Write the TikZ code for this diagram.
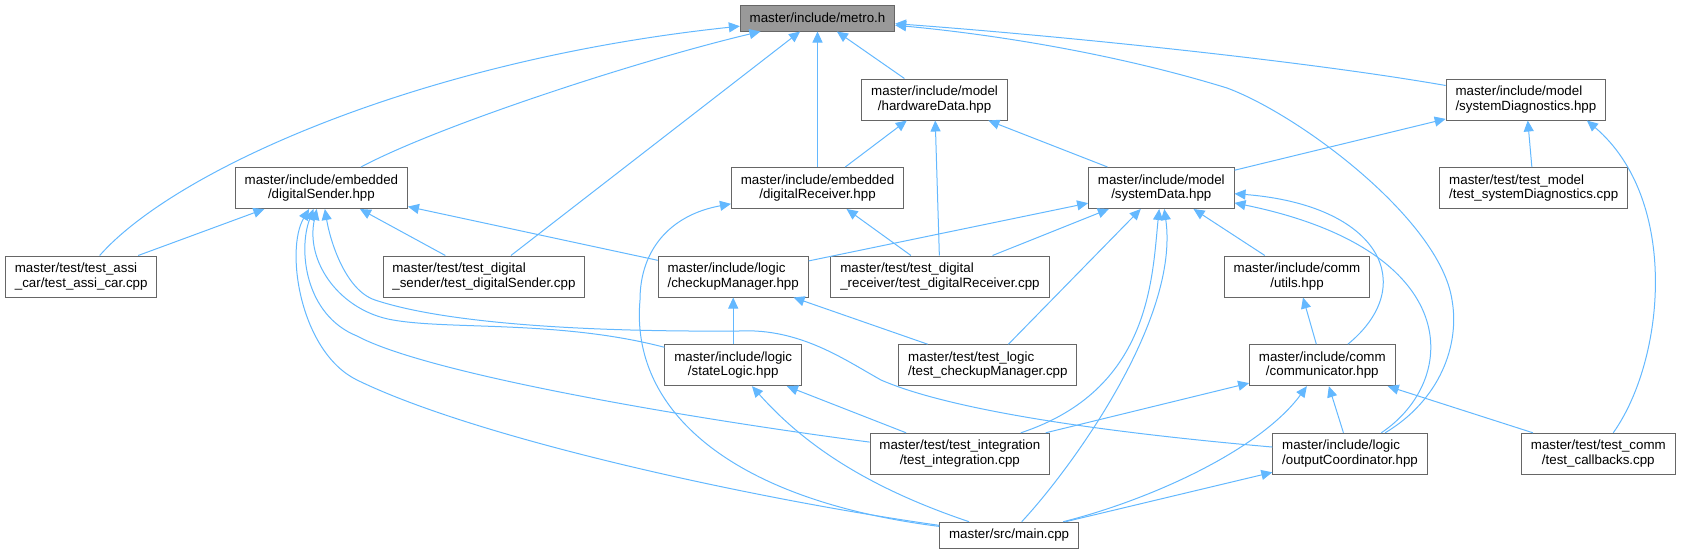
\documentclass[tikz,border=0pt]{standalone}
\usepackage{fontspec}
\setmainfont{Liberation Sans}
\usetikzlibrary{arrows.meta}
\definecolor{edgeblue}{HTML}{63B8FF}
\definecolor{boxgray}{HTML}{666666}
\definecolor{rootgray}{HTML}{999999}
\tikzstyle{file} = [rectangle, draw=boxgray, fill=white, line width=0.75pt, align=center, inner xsep=7pt, inner ysep=0pt, minimum height=30.75pt, font=\fontsize{10}{11}\selectfont]
\tikzstyle{root} = [file, fill=rootgray, minimum height=19.5pt]
\tikzstyle{line} = [draw=edgeblue, line width=0.75pt, -{Triangle[length=8.25pt,width=7.5pt]}]

\begin{document}
\begin{tikzpicture}[x=0.75pt, y=-0.75pt]
        \useasboundingbox (0,0) rectangle (1681,553);
        \node[root]                  (metr) at (817.5,18)   {master/include/metro.h};
        \node[file]                  (hwdt) at (934.6,99.5) {master/include/model\\/hardwareData.hpp};
        \node[file, align=left]      (sdia) at (1525.9,99.5) {master/include/model\\/systemDiagnostics.hpp};
        \node[file]                  (dsnd) at (321.4,188)  {master/include/embedded\\/digitalSender.hpp};
        \node[file]                  (drcv) at (817.5,188)  {master/include/embedded\\/digitalReceiver.hpp};
        \node[file]                  (sdat) at (1161.3,188) {master/include/model\\/systemData.hpp};
        \node[file, align=left]      (tsdi) at (1533.7,188) {master/test/test\_model\\/test\_systemDiagnostics.cpp};
        \node[file, align=left]      (tasi) at (81.2,276.5) {master/test/test\_assi\\\_car/test\_assi\_car.cpp};
        \node[file, align=left]      (ttds) at (483.9,276.5) {master/test/test\_digital\\\_sender/test\_digitalSender.cpp};
        \node[file, align=left]      (ckmg) at (733.2,276.5) {master/include/logic\\/checkupManager.hpp};
        \node[file, align=left]      (ttdr) at (940,276.5)  {master/test/test\_digital\\\_receiver/test\_digitalReceiver.cpp};
        \node[file]                  (util) at (1297,276.5) {master/include/comm\\/utils.hpp};
        \node[file]                  (stat) at (733.2,365.2) {master/include/logic\\/stateLogic.hpp};
        \node[file, align=left]      (ttck) at (987.9,365.2) {master/test/test\_logic\\/test\_checkupManager.cpp};
        \node[file]                  (comm) at (1322.3,365.2) {master/include/comm\\/communicator.hpp};
        \node[file]                  (tint) at (959.8,453.8) {master/test/test\_integration\\/test\_integration.cpp};
        \node[file, align=left]      (outc) at (1350,453.8) {master/include/logic\\/outputCoordinator.hpp};
        \node[file]                  (tcbk) at (1598.3,453.8) {master/test/test\_comm\\/test\_callbacks.cpp};
        \node[root, fill=white]      (main) at (1009.1,535.2) {master/src/main.cpp};

        % metro.h
        \path[line] (tasi) .. controls (175,170) and (420,60) .. (metr);
        \path[line] (dsnd) .. controls (440,125) and (640,60) .. (metr);
        \path[line] (ttds) -- (metr);
        \path[line] (drcv) -- (metr);
        \path[line] (hwdt) -- (metr);
        \path[line] (sdia) .. controls (1300,60) and (1050,35) .. (metr);
        \path[line] (outc) .. controls (1440,400) and (1460,345) .. (1452,300) .. controls (1440,220) and (1300,115) .. (1227,88) .. controls (1120,55) and (1000,35) .. (metr);
        % model
        \path[line] (drcv) -- (hwdt);
        \path[line] (ttdr) -- (hwdt);
        \path[line] (sdat) -- (hwdt);
        \path[line] (sdat) -- (sdia);
        \path[line] (tsdi) -- (sdia);
        \path[line] (tcbk) .. controls (1665,360) and (1680,200) .. (sdia.-19);
        % embedded
        \path[line] (tasi) -- (dsnd);
        \path[line] (ttds) -- (dsnd);
        \path[line] (ckmg) -- (dsnd);
        \path[line] (main) .. controls (760,500) and (480,440) .. (357,380) .. controls (300,352) and (285,250) .. (dsnd);
        \path[line] (tint) .. controls (700,420) and (430,375) .. (357,336) .. controls (305,315) and (298,250) .. (dsnd);
        \path[line] (stat) .. controls (560,320) and (450,330) .. (393,320) .. controls (340,311) and (305,262) .. (dsnd);
        \path[line] (outc) .. controls (1100,432) and (950,410) .. (881,380) .. controls (845,360) and (800,328) .. (739,331) .. controls (600,332) and (450,325) .. (375,300) .. controls (345,290) and (330,240) .. (dsnd);
        \path[line] (ttdr) -- (drcv);
        \path[line] (main) .. controls (730,500) and (630,410) .. (640,300) .. controls (640,250) and (670,215) .. (drcv);
        % systemData
        \path[line] (ckmg) -- (sdat);
        \path[line] (ttdr) -- (sdat);
        \path[line] (ttck) -- (sdat);
        \path[line] (tint.19) .. controls (1150,390) and (1152,280) .. (sdat);
        \path[line] (main) .. controls (1070,470) and (1180,320) .. (sdat);
        \path[line] (util) -- (sdat);
        \path[line] (comm) .. controls (1420,285) and (1380,205) .. (sdat);
        \path[line] (outc) .. controls (1460,380) and (1465,250) .. (sdat);
        % logic and comm
        \path[line] (stat) -- (ckmg);
        \path[line] (ttck) -- (ckmg);
        \path[line] (comm) -- (util);
        \path[line] (tint) -- (stat);
        \path[line] (main) .. controls (860,485) and (800,440) .. (stat);
        \path[line] (tint) -- (comm);
        \path[line] (main) .. controls (1150,500) and (1260,450) .. (comm);
        \path[line] (outc) -- (comm);
        \path[line] (tcbk) -- (comm);
        \path[line] (main) -- (outc);
      \end{tikzpicture}
\end{document}
